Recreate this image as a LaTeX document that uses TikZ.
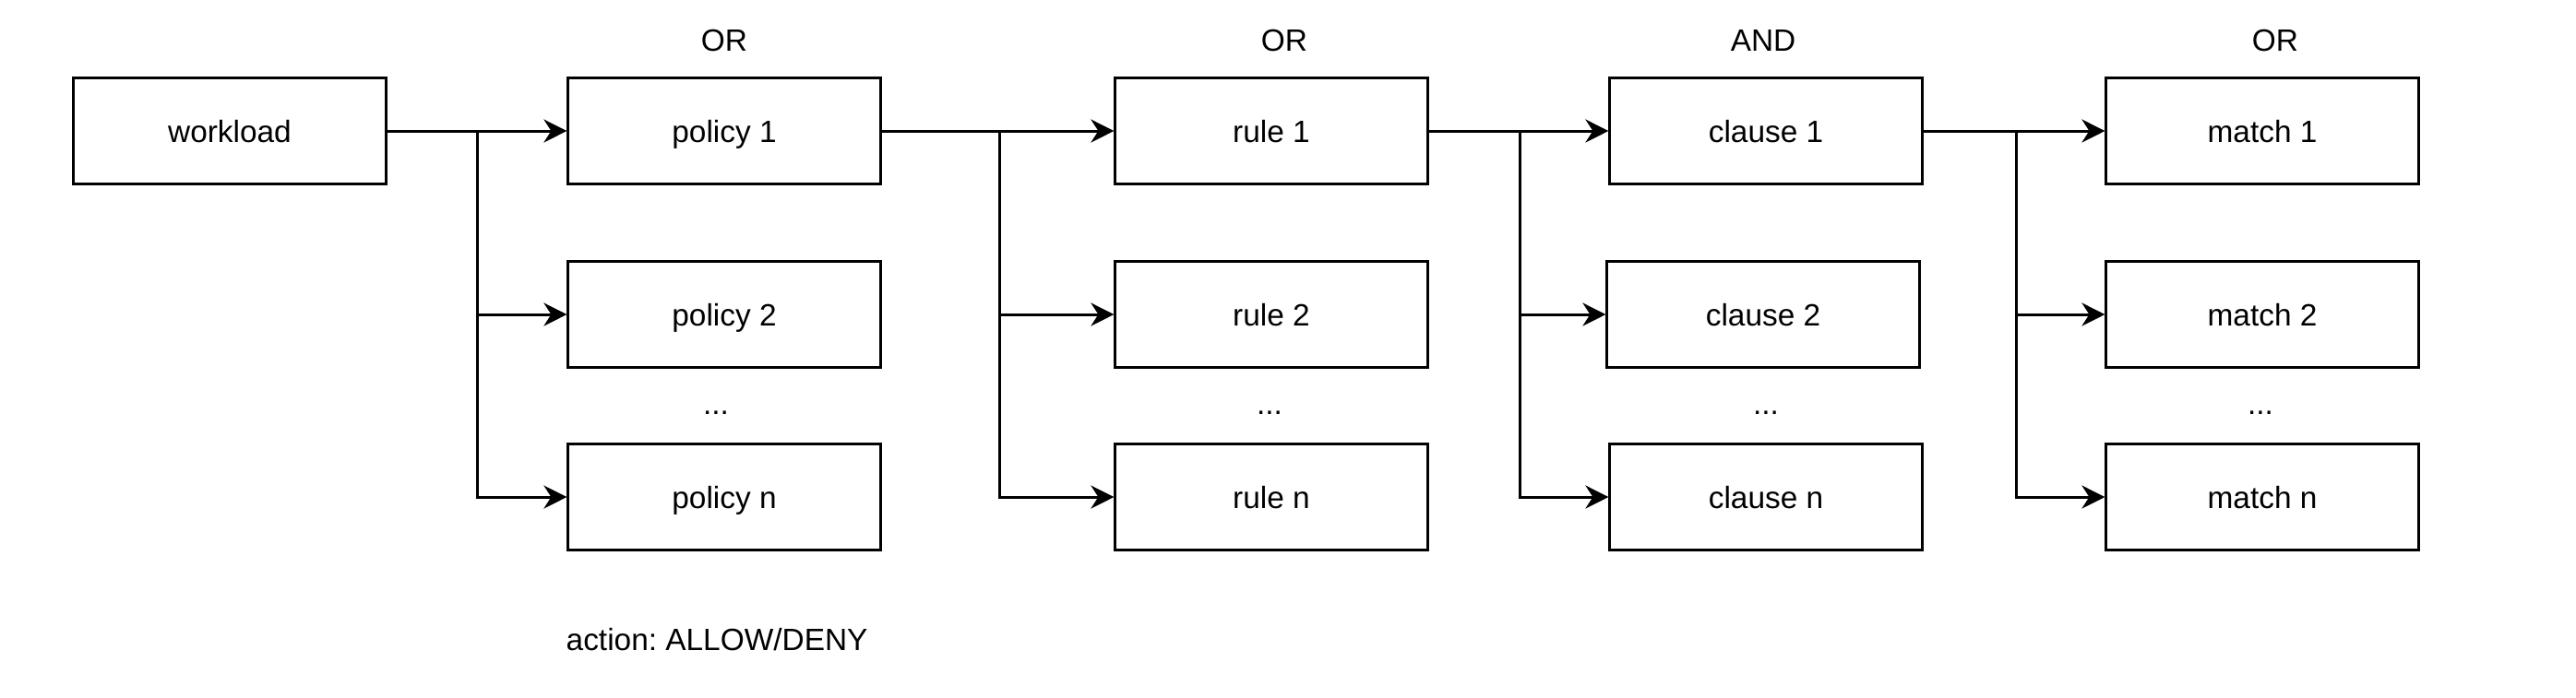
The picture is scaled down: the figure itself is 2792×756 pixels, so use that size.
\documentclass[tikz,border=0pt]{standalone}
\usepackage{fontspec}
\setmainfont{Liberation Sans}
\usetikzlibrary{arrows.meta}
\frenchspacing
\begin{document}
\begin{tikzpicture}[x=0.01cm,y=-0.01cm,
  every node/.style={font=\fontsize{9.5}{11.5}\selectfont},
  box/.style={draw,line width=0.03cm,minimum width=3.38cm,minimum height=1.14cm,inner sep=0pt,text height=0.24cm,text depth=0pt},
  lbl/.style={anchor=base,inner sep=0pt},
  arr/.style={line width=0.03cm,-{Stealth[length=0.25cm,width=0.25cm,inset=0.08cm]}}]
\useasboundingbox (0,0) rectangle (2792,756);
\node[box] (w) at (249,142) {workload};
\node[box] (p1) at (785,142) {policy 1};
\node[box] (p2) at (785,341) {policy 2};
\node[box] (pn) at (785,539) {policy n};
\node[box] (r1) at (1378,142) {rule 1};
\node[box] (r2) at (1378,341) {rule 2};
\node[box] (rn) at (1378,539) {rule n};
\node[box] (c1) at (1914,142) {clause 1};
\node[box] (c2) at (1911,341) {clause 2};
\node[box] (cn) at (1914,539) {clause n};
\node[box] (m1) at (2452,142) {match 1};
\node[box] (m2) at (2452,341) {match 2};
\node[box] (mn) at (2452,539) {match n};
\node[lbl] (or1) at (785,55) {OR};
\node[lbl] (or2) at (1392,55) {OR};
\node[lbl] (and1) at (1911,55) {AND};
\node[lbl] (or3) at (2466,55) {OR};
\node[lbl] (d1) at (776,449) {...};
\node[lbl] (d2) at (1376,449) {...};
\node[lbl] (d3) at (1914,449) {...};
\node[lbl] (d4) at (2450,449) {...};
\node[lbl,anchor=base west] (act) at (613,705) {action: ALLOW/DENY};
\coordinate (j1) at (517,142);
\coordinate (j2) at (1083,142);
\coordinate (j3) at (1647,142);
\coordinate (j4) at (2185,142);
\draw[arr] (w.east) -- (p1.west);
\draw[arr] (j1) |- (p2.west);
\draw[arr] (j1) |- (pn.west);
\draw[arr] (p1.east) -- (r1.west);
\draw[arr] (j2) |- (r2.west);
\draw[arr] (j2) |- (rn.west);
\draw[arr] (r1.east) -- (c1.west);
\draw[arr] (j3) |- (c2.west);
\draw[arr] (j3) |- (cn.west);
\draw[arr] (c1.east) -- (m1.west);
\draw[arr] (j4) |- (m2.west);
\draw[arr] (j4) |- (mn.west);
\end{tikzpicture}
\end{document}
